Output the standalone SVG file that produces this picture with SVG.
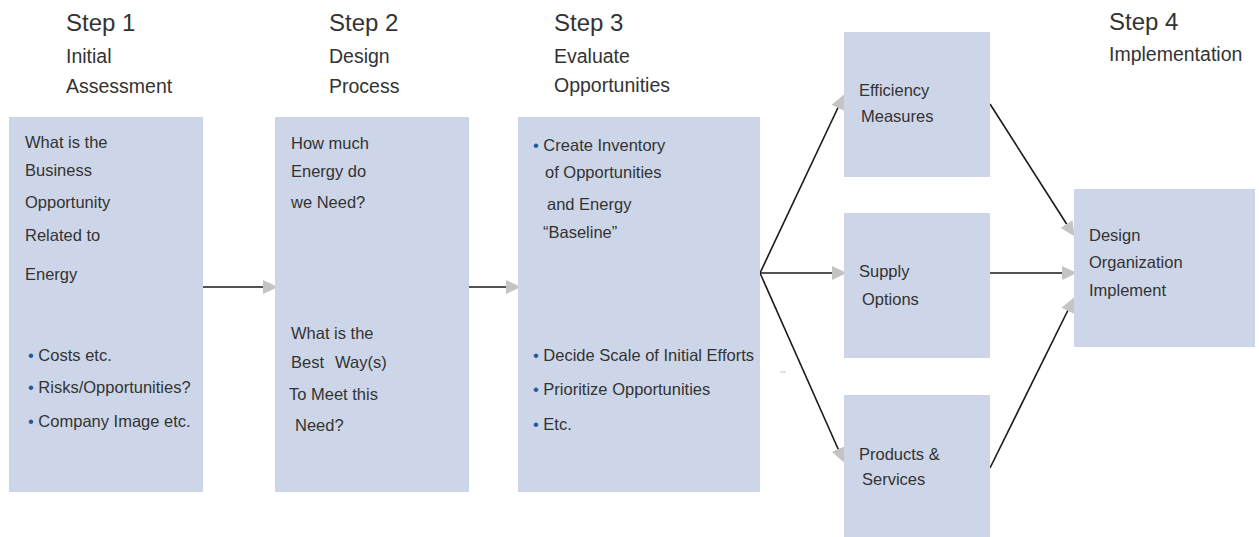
<svg xmlns="http://www.w3.org/2000/svg" width="1259" height="537" viewBox="0 0 1259 537">
  <style>
    .box { fill: #cdd6e8; }
    .h1 { font-family: "Liberation Sans", Arial, sans-serif; font-size: 24px; fill: #333333; }
    .h2 { font-family: "Liberation Sans", Arial, sans-serif; font-size: 19.5px; fill: #333333; }
    .t { font-family: "Liberation Sans", Arial, sans-serif; font-size: 16.5px; fill: #333333; }
    .b { fill: #1f5a9e; }
    .conn { stroke: #1a1a1a; stroke-width: 1.6; fill: none; marker-end: url(#arr); }
  </style>
  <defs>
    <marker id="arr" markerUnits="userSpaceOnUse" markerWidth="16" markerHeight="16" viewBox="0 0 16 16" refX="12" refY="7" orient="auto">
      <path d="M0,0 L15,7 L0,14 Z" fill="#c4c4c4"/>
    </marker>
  </defs>
  <rect width="1259" height="537" fill="#ffffff"/>

  <g id="headings">
    <text class="h1" x="66" y="31">Step 1</text>
    <text class="h2" x="66" y="63">Initial</text>
    <text class="h2" x="66" y="93">Assessment</text>
    <text class="h1" x="329" y="31">Step 2</text>
    <text class="h2" x="329" y="63">Design</text>
    <text class="h2" x="329" y="93">Process</text>
    <text class="h1" x="554" y="31">Step 3</text>
    <text class="h2" x="554" y="63">Evaluate</text>
    <text class="h2" x="554" y="92">Opportunities</text>
    <text class="h1" x="1109" y="30">Step 4</text>
    <text class="h2" x="1109" y="61">Implementation</text>
  </g>

  <g id="connectors">
    <line class="conn" x1="203" y1="287" x2="275" y2="287"/>
    <line class="conn" x1="469" y1="287" x2="518" y2="287"/>
    <line class="conn" x1="760" y1="273" x2="843" y2="97"/>
    <line class="conn" x1="760" y1="273" x2="844" y2="273"/>
    <line class="conn" x1="760" y1="273" x2="843" y2="460"/>
    <line class="conn" x1="990" y1="104" x2="1073" y2="234"/>
    <line class="conn" x1="990" y1="273" x2="1074" y2="273"/>
    <line class="conn" x1="990" y1="468" x2="1073" y2="300"/>
  </g>

  <g id="step1">
    <rect class="box" x="9" y="117" width="194" height="375"/>
    <text class="t" x="25" y="148">What is the</text>
    <text class="t" x="25" y="176">Business</text>
    <text class="t" x="25" y="208">Opportunity</text>
    <text class="t" x="25" y="241">Related to</text>
    <text class="t" x="25" y="280">Energy</text>
    <text class="t" x="28" y="361"><tspan class="b">•</tspan> Costs etc.</text>
    <text class="t" x="28" y="393"><tspan class="b">•</tspan> Risks/Opportunities?</text>
    <text class="t" x="28" y="427"><tspan class="b">•</tspan> Company Image etc.</text>
  </g>

  <g id="step2">
    <rect class="box" x="275" y="117" width="194" height="375"/>
    <text class="t" x="291" y="149">How much</text>
    <text class="t" x="291" y="177">Energy do</text>
    <text class="t" x="291" y="208">we Need?</text>
    <text class="t" x="291" y="339">What is the</text>
    <text class="t" x="291" y="368">Best<tspan x="335">Way(s)</tspan></text>
    <text class="t" x="289" y="400">To Meet this</text>
    <text class="t" x="295" y="431">Need?</text>
  </g>

  <g id="step3">
    <rect class="box" x="518" y="117" width="242" height="375"/>
    <text class="t" x="533" y="151"><tspan class="b">•</tspan> Create Inventory</text>
    <text class="t" x="545" y="178">of Opportunities</text>
    <text class="t" x="547" y="210">and Energy</text>
    <text class="t" x="543" y="238">“Baseline”</text>
    <text class="t" x="533" y="361"><tspan class="b">•</tspan> Decide Scale of Initial Efforts</text>
    <text class="t" x="533" y="395"><tspan class="b">•</tspan> Prioritize Opportunities</text>
    <text class="t" x="533" y="430"><tspan class="b">•</tspan> Etc.</text>
  </g>
  <line x1="780" y1="372" x2="786" y2="372" stroke="#c8c8c8" stroke-width="1"/>

  <g id="efficiency">
    <rect class="box" x="844" y="32" width="146" height="145"/>
    <text class="t" x="859" y="96">Efficiency</text>
    <text class="t" x="861" y="122">Measures</text>
  </g>

  <g id="supply">
    <rect class="box" x="844" y="213" width="146" height="145"/>
    <text class="t" x="859" y="277">Supply</text>
    <text class="t" x="862" y="305">Options</text>
  </g>

  <g id="products">
    <rect class="box" x="844" y="395" width="146" height="142"/>
    <text class="t" x="859" y="460">Products &amp;</text>
    <text class="t" x="862" y="485">Services</text>
  </g>

  <g id="implementation">
    <rect class="box" x="1074" y="189" width="181" height="158"/>
    <text class="t" x="1089" y="241">Design</text>
    <text class="t" x="1089" y="268">Organization</text>
    <text class="t" x="1089" y="296">Implement</text>
  </g>
</svg>
